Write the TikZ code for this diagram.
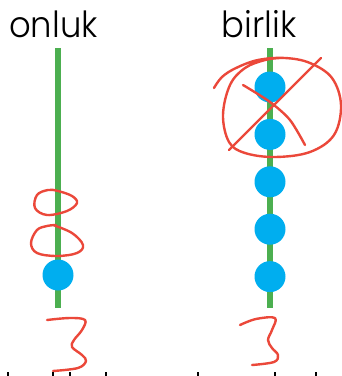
\documentclass[tikz,border=0pt]{standalone}
\usepackage{fontspec}
\IfFontExistsTF{Poppins Light}{\setmainfont{Poppins Light}}{\setmainfont{Poppins}}
\usetikzlibrary{positioning}
\definecolor{rodgreen}{RGB}{76,175,80}
\definecolor{beadblue}{RGB}{0,174,239}
\definecolor{penred}{RGB}{235,72,58}

\begin{document}
\begin{tikzpicture}[x=1pt,y=-1pt]
\tikzstyle{bead}=[circle,fill=beadblue,minimum size=31pt,inner sep=0pt]
\tikzstyle{rod}=[rodgreen,line width=5.5pt]
\tikzstyle{pen}=[penred,line width=2.4pt,line cap=round,line join=round]
\tikzstyle{title}=[font=\fontsize{36}{36}\selectfont,anchor=base,inner sep=0pt,xscale=0.94]
    \useasboundingbox (0,0) rectangle (342,376);
    \node (onluk) [title] at (53.5,37) {onluk};
    \node (birlik) [title] at (259,37) {birlik};

    % rods
    \coordinate (ltop) at (58,48);
    \coordinate (lbot) at (58,308);
    \coordinate (rtop) at (270,48);
    \coordinate (rbot) at (270,308);
    \draw[rod] (ltop) -- (lbot);
    \draw[rod] (rtop) -- (rbot);

    % beads
    \node (l1) [bead] at (58,275) {};
    \node (r1) [bead] at (270,87) {};
    \node (r2) [bead, below=16pt of r1] {};
    \node (r3) [bead, below=16pt of r2] {};
    \node (r4) [bead, below=16pt of r3] {};
    \node (r5) [bead, below=16pt of r4] {};

    % handwriting: 0 0 3
    \draw[pen] plot[smooth cycle, tension=0.6] coordinates {(58,191) (72,196) (77,203) (67,211) (47,215) (35,208) (37,195) (48,190)};
    \draw[pen] plot[smooth, tension=0.6] coordinates {(53,225) (72,233) (83,245) (77,253) (57,256) (37,253) (31,243) (37,230) (47,226) (56,225)};
    \draw[pen] plot[smooth, tension=0.6] coordinates {(47,320) (70,318) (85,320) (82,330) (74,340) (72,347) (82,355) (86,361) (78,368) (53,371)};

    % handwriting: crossed out ring and 3
    \draw[pen] plot[smooth, tension=0.6] coordinates {(214,88) (222,77) (236,68) (258,60) (285,58) (310,63) (332,78) (341,105) (334,135) (310,152) (275,157) (245,153) (229,142) (223,115) (230,85) (245,68) (265,60) (280,58)};
    \draw[pen] (321,58) -- (229,150);
    \draw[pen] plot[smooth] coordinates {(243,85) (270,102) (290,120) (305,145)};
    \draw[pen] plot[smooth, tension=0.6] coordinates {(240,325) (256,319) (275,318) (272,330) (268,340) (272,348) (278,355) (274,362) (252,365)};

    % cut-off glyph tops along the bottom edge
    \foreach \x in {8,53,70,106,198,275,316}
        \fill (\x-1,372) rectangle (\x+1,376);
\end{tikzpicture}
\end{document}
